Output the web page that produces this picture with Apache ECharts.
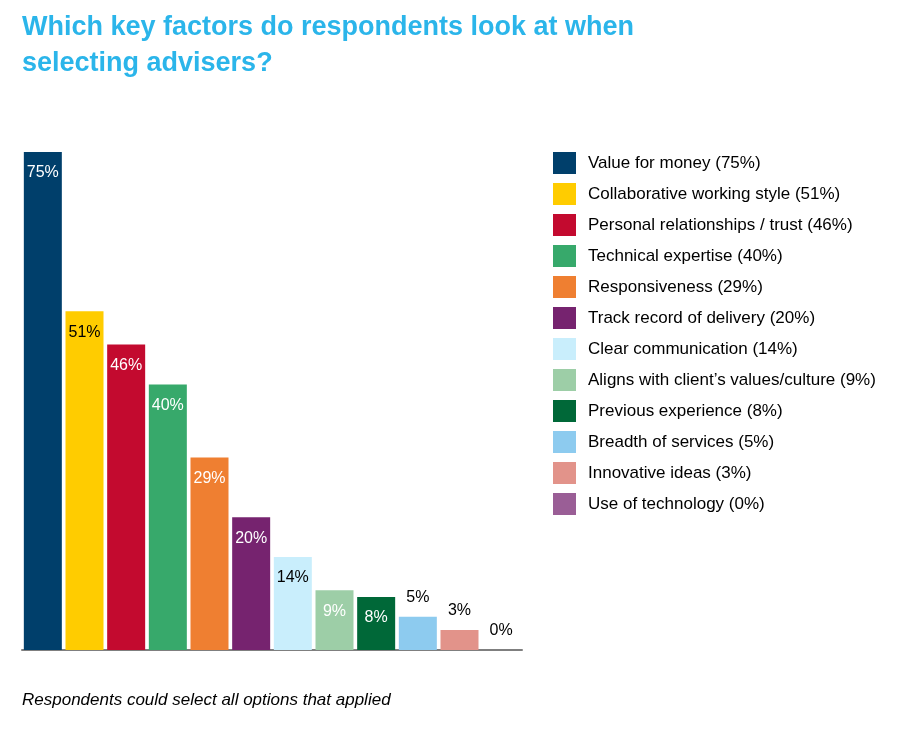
<!DOCTYPE html>
<html>
<head>
<meta charset="utf-8">
<script src="https://cdn.jsdelivr.net/npm/echarts@6/dist/echarts.min.js"></script>
<style>
html, body { margin: 0; padding: 0; background: #ffffff; }
#chart { width: 900px; height: 729px; }
</style>
</head>
<body>
<div id="chart"></div>
<script>
var categories = [
    "Value for money",
    "Collaborative working style",
    "Personal relationships / trust",
    "Technical expertise",
    "Responsiveness",
    "Track record of delivery",
    "Clear communication",
    "Aligns with client\u2019s values/culture",
    "Previous experience",
    "Breadth of services",
    "Innovative ideas",
    "Use of technology"
];
var values = [75, 51, 46, 40, 29, 20, 14, 9, 8, 5, 3, 0];
var colors = ["#003f6b", "#ffcc00", "#c30a2f", "#37a96b", "#ef7f31", "#76236f",
              "#c9eefc", "#9dcea7", "#006838", "#8dcbef", "#e2938a", "#9a5e96"];
// label colour and whether label sits inside the bar
var labelColors = ["#fff", "#000", "#fff", "#fff", "#fff", "#fff", "#000", "#fff", "#fff", "#000", "#000", "#000"];
var labelInside = [true, true, true, true, true, true, true, true, true, false, false, false];

var series = [];
for (var i = 0; i < categories.length; i++) {
    var d = [];
    for (var j = 0; j < categories.length; j++) {
        d.push(j == i ? values[i] : '-');
    }
    series.push({
        name: categories[i],
        type: "bar",
        stack: "all",
        barWidth: 38,
        data: d,
        itemStyle: { color: colors[i] },
        label: {
            show: true,
            position: labelInside[i] ? "insideTop" : "top",
            distance: labelInside[i] ? 13 : 11,
            color: labelColors[i],
            fontFamily: "Liberation Sans, Arial, sans-serif",
            fontSize: 16,
            formatter: "{c}%"
        }
    });
}

var chart = echarts.init(document.getElementById("chart"));
chart.setOption({
    animation: false,
    title: [{
        text: "Which key factors do respondents look at when\nselecting advisers?",
        left: 22,
        top: 10,
        padding: 0,
        textStyle: {
            color: "#2bb5ea",
            fontFamily: "Liberation Sans, Arial, sans-serif",
            fontWeight: "bold",
            fontSize: 27,
            lineHeight: 36
        }
    }, {
        text: "Respondents could select all options that applied",
        left: 22,
        top: 692,
        padding: 0,
        textStyle: {
            color: "#000",
            fontFamily: "Liberation Sans, Arial, sans-serif",
            fontStyle: "italic",
            fontWeight: "normal",
            fontSize: 17
        }
    }],
    legend: {
        orient: "vertical",
        left: 553,
        top: 152,
        padding: 0,
        itemWidth: 23,
        itemHeight: 22,
        itemGap: 9,
        icon: "rect",
        data: categories,
        textStyle: {
            color: "#000",
            fontFamily: "Liberation Sans, Arial, sans-serif",
            fontSize: 17,
            padding: [3, 0, 0, 7]
        },
        formatter: function (name) {
            return name + " (" + values[categories.indexOf(name)] + "%)";
        }
    },
    grid: { left: 22, top: 152, width: 500, height: 498 },
    xAxis: {
        type: "category",
        data: categories,
        axisLine: { lineStyle: { color: "#7f7f7f", width: 2 } },
        axisTick: { show: false },
        axisLabel: { show: false }
    },
    yAxis: {
        type: "value",
        min: 0,
        max: 75,
        show: false
    },
    series: series
});
</script>
</body>
</html>
